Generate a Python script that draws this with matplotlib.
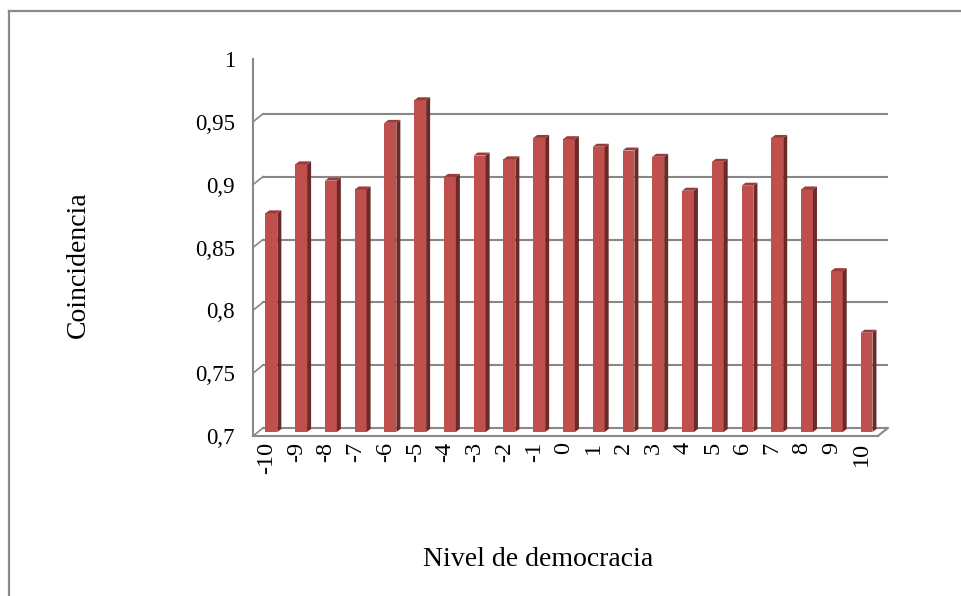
import matplotlib
matplotlib.use('Agg')
import matplotlib.pyplot as plt
from matplotlib.patches import Polygon
from matplotlib.lines import Line2D

# Datos: coincidencia por nivel de democracia
niveles = list(range(-10, 11))
coincidencia = [0.874, 0.913, 0.900, 0.893, 0.946, 0.964, 0.903, 0.920, 0.917, 0.934, 0.933,
                0.927, 0.924, 0.919, 0.892, 0.915, 0.896, 0.934, 0.893, 0.828, 0.779]
yticks = [0.7, 0.75, 0.8, 0.85, 0.9, 0.95, 1.0]
ytick_labels = ['0,7', '0,75', '0,8', '0,85', '0,9', '0,95', '1']

plt.rcParams['font.family'] = ['Liberation Serif', 'DejaVu Serif']

W, H = 961, 596
fig = plt.figure(figsize=(W / 100, H / 100), dpi=100)
ax = fig.add_axes([253 / W, (H - 436) / H, (888 - 253) / W, (436 - 59) / H])
x0, x1 = -10.45, 10.89
ax.set_xlim(x0, x1)
ax.set_ylim(0.7, 1.0)
for s in ax.spines.values():
    s.set_visible(False)

# pseudo-3D offsets (data units)
px_x = (888 - 253) / (x1 - x0)
px_y = (436 - 59) / 0.3
dxd, dyd = 10 / px_x, 8 / px_y
bx, by = 4 / px_x, 3 / px_y
grid_c = '#888888'
x_end = 10.55

# back wall gridlines + left wall connectors
for g in yticks[:-1]:
    ax.plot([x0 + dxd, x_end + dxd], [g + dyd, g + dyd], color=grid_c, lw=1.5, zorder=1)
    ax.plot([x0, x0 + dxd], [g, g + dyd], color=grid_c, lw=1.2, zorder=1)
# floor
ax.plot([x0, x_end], [0.7, 0.7], color=grid_c, lw=1.5, zorder=1, clip_on=False)
ax.plot([x_end, x_end + dxd], [0.7, 0.7 + dyd], color=grid_c, lw=1.5, zorder=1, clip_on=False)
# y axis
ax.plot([x0, x0], [0.7, 1.0], color=grid_c, lw=1.5, zorder=1, clip_on=False)

# bars
w = 0.40
for c, v in zip(niveles, coincidencia):
    left = c - w / 2 + dxd / 2
    base = 0.7 + dyd / 2
    top = v + dyd / 2
    ax.bar(left, v - 0.7, width=w, bottom=base, align='edge', color='#C0504D', zorder=3)
    side = [(left + w, base), (left + w + bx, base + by), (left + w + bx, top + by), (left + w, top)]
    ax.add_patch(Polygon(side, closed=True, facecolor='#6A2A28', edgecolor='none', zorder=3))
    cap = [(left, top), (left + w, top), (left + w + bx, top + by), (left + bx, top + by)]
    ax.add_patch(Polygon(cap, closed=True, facecolor='#9C3C3A', edgecolor='none', zorder=3))

ax.set_yticks(yticks)
ax.set_yticklabels(ytick_labels, fontsize=16.5)
ax.set_xticks(niveles)
ax.set_xticklabels([str(n) for n in niveles], rotation=90, fontsize=17.5, va='top')
ax.tick_params(axis='both', length=0)
ax.tick_params(axis='y', pad=13)
ax.tick_params(axis='x', pad=4)

fig.text(78 / W, 1 - 265 / H, 'Coincidencia', rotation=90, ha='center', va='center', fontsize=20)
fig.text(538 / W, 1 - 560 / H, 'Nivel de democracia', ha='center', va='center', fontsize=20)

# chart area border (top and left visible)
fig.add_artist(Line2D([9 / W, 1], [1 - 11 / H, 1 - 11 / H], color='#8A8A8A', lw=1.6))
fig.add_artist(Line2D([9 / W, 9 / W], [1 - 11 / H, 0], color='#8A8A8A', lw=1.6))

fig.savefig('out.png', dpi=100)
